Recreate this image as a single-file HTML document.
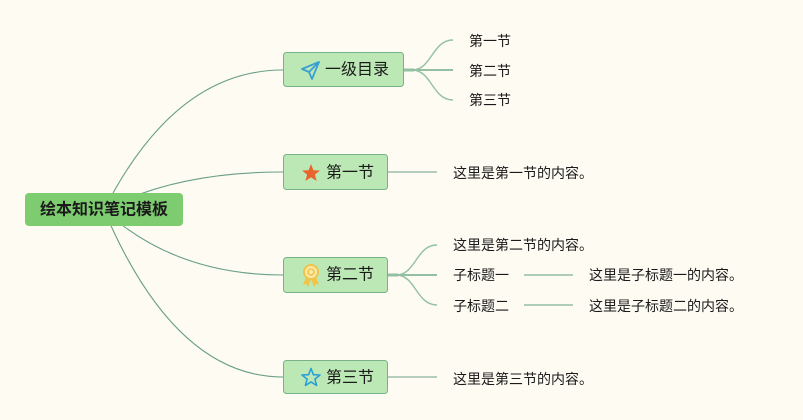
<!DOCTYPE html>
<html><head><meta charset="utf-8"><style>
html,body{margin:0;padding:0;background:#fdfbf2;}
svg{display:block;}
text{font-family:"Liberation Sans","Noto Sans CJK SC",sans-serif;fill:#1a1a1a;}
</style></head><body>
<svg width="803" height="420" viewBox="0 0 803 420" xmlns="http://www.w3.org/2000/svg">
<rect width="803" height="420" fill="#fdfbf2"/>
<!-- main curves -->
<g fill="none" stroke="#6a9f86" stroke-width="1.1">
<path d="M104,210 Q175,70 283,70"/>
<path d="M104,210 Q175,172 283,172"/>
<path d="M104,210 Q175,275 283,275"/>
<path d="M104,210 Q175,377 283,377"/>
</g>
<!-- root -->
<rect x="25" y="193" width="158" height="33" rx="4" fill="#7dcc70"/>
<text x="104" y="210" font-size="16" font-weight="bold" text-anchor="middle" dominant-baseline="central">绘本知识笔记模板</text>

<!-- node 1 children -->
<g fill="none" stroke="#93c0a3">
<path d="M404,70 L414,70" stroke-width="3"/>
<path d="M412,70 C432,70 432,40 453,40" stroke-width="1.4"/>
<path d="M412,70 L453,70" stroke-width="2"/>
<path d="M412,70 C432,70 432,100 453,100" stroke-width="1.4"/>
</g>
<!-- node 3 children -->
<g fill="none" stroke="#93c0a3">
<path d="M388,275 L398,275" stroke-width="3"/>
<path d="M396,275 C416,275 416,245 437,245" stroke-width="1.4"/>
<path d="M396,275 L437,275" stroke-width="2"/>
<path d="M396,275 C416,275 416,305 437,305" stroke-width="1.4"/>
<path d="M524,275 L573,275" stroke-width="1.6"/>
<path d="M524,305 L573,305" stroke-width="1.6"/>
</g>
<!-- node 2/4 lines -->
<g fill="none" stroke="#6a9f86" stroke-width="1.1">
<path d="M388,172 L437,172"/>
<path d="M388,377 L437,377"/>
</g>

<!-- nodes -->
<g fill="#bce8b5" stroke="#78b28a" stroke-width="1">
<rect x="283.5" y="52.5" width="120" height="34" rx="3"/>
<rect x="283.5" y="154.5" width="104" height="35" rx="3"/>
<rect x="283.5" y="257.5" width="104" height="35" rx="3"/>
<rect x="283.5" y="360.5" width="104" height="33" rx="3"/>
</g>

<!-- icons -->
<!-- paper plane -->
<g fill="none" stroke="#3aa0d2" stroke-width="1.8" stroke-linejoin="round">
<path d="M319,62 L302,69 L309,72 L312,79 Z"/>
<path d="M309,72 L319,62"/>
</g>
<!-- orange star -->
<polygon fill="#e8652e" points="311,164 313.4,170.2 320,170.5 314.9,174.6 316.6,181 311,177.4 305.4,181 307.1,174.6 302,170.5 308.6,170.2"/>
<!-- medal -->
<g>
<path d="M306,277 L303,285 L306,284 L308,287 L311,279 Z" fill="#f0c34a"/>
<path d="M316,277 L319,285 L316,284 L314,287 L311,279 Z" fill="#f0c34a"/>
<circle cx="311" cy="272" r="7" fill="#fbe9a8" stroke="#f0c34a" stroke-width="2"/>
<circle cx="311" cy="272" r="3" fill="none" stroke="#f0c34a" stroke-width="1.6"/>
</g>
<!-- blue outline star -->
<polygon fill="none" stroke="#2a9fd6" stroke-width="1.6" stroke-linejoin="round" points="311,368.5 313.4,374.7 320,375 314.9,379.1 316.6,385.5 311,381.9 305.4,385.5 307.1,379.1 302,375 308.6,374.7"/>

<!-- node labels -->
<g font-size="16" dominant-baseline="central">
<text x="325" y="70">一级目录</text>
<text x="326" y="173">第一节</text>
<text x="326" y="275">第二节</text>
<text x="326" y="378">第三节</text>
</g>

<!-- leaf labels -->
<g font-size="14" dominant-baseline="central">
<text x="469" y="41">第一节</text>
<text x="469" y="71">第二节</text>
<text x="469" y="100">第三节</text>
<text x="453" y="173">这里是第一节的内容。</text>
<text x="453" y="245">这里是第二节的内容。</text>
<text x="453" y="275">子标题一</text>
<text x="453" y="306">子标题二</text>
<text x="589" y="275">这里是子标题一的内容。</text>
<text x="589" y="306">这里是子标题二的内容。</text>
<text x="453" y="379">这里是第三节的内容。</text>
</g>
</svg>
</body></html>
